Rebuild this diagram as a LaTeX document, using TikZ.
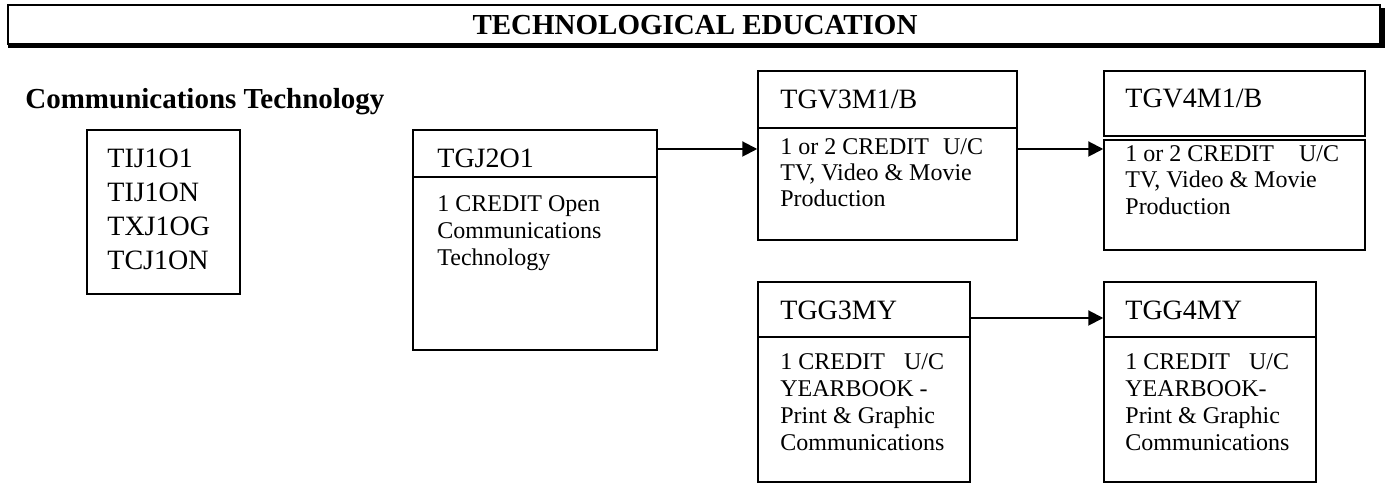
\documentclass[tikz,border=0pt]{standalone}
\usepackage{fontspec}
\setmainfont{Liberation Serif}
\usetikzlibrary{arrows.meta,fit}
\begin{document}
\begin{tikzpicture}[x=0.5pt,y=-0.5pt,
  box/.style={draw=black, line width=0.75pt, inner sep=0pt},
  hd/.style={font=\fontsize{14}{17}\selectfont, anchor=base west, inner sep=0pt},
  bd/.style={font=\fontsize{12}{14}\selectfont, anchor=base west, inner sep=0pt},
  ttl/.style={font=\fontsize{14.5}{17}\selectfont\bfseries, inner sep=0pt},
  arr/.style={line width=1pt, -{Triangle[length=7.5pt,width=7.5pt]}}]
\useasboundingbox (0,0) rectangle (1389,485);

% title bar with shadow
\fill[black] (8,44) rectangle (1385,48);
\fill[black] (1380,8) rectangle (1385,48);
\node[draw=black, line width=0.9pt, fill=white, inner sep=0pt, fit={(8,5) (1380,44)}] (tbar) {};
\node[ttl, anchor=base] (title) at (695,35) {TECHNOLOGICAL EDUCATION};

% heading
\node[ttl, anchor=base west] (heading) at (25,109) {Communications Technology};

% grade 9 box
\node[box, fit={(87,130) (240,294)}] (tij) {};
\node[hd] (tij1) at (107,168) {TIJ1O1};
\node[hd] (tij2) at (107,202) {TIJ1ON};
\node[hd] (tij3) at (107,236) {TXJ1OG};
\node[hd] (tij4) at (107,270) {TCJ1ON};

% TGJ2O1
\node[box, fit={(413,130) (657,177)}] (tgjh) {};
\node[box, fit={(413,177) (657,350)}] (tgjb) {};
\node[hd] (tgjt) at (437,168) {TGJ2O1};
\node[bd] (tgj1) at (437,212) {1 CREDIT Open};
\node[bd] (tgj2) at (437,239) {Communications};
\node[bd] (tgj3) at (437,266) {Technology};

% TGV3M1/B
\node[box, fit={(758,71) (1017,128)}] (tgv3h) {};
\node[box, fit={(758,128) (1017,240)}] (tgv3b) {};
\node[hd] (tgv3t) at (780,109) {TGV3M1/B};
\node[bd] (tgv31) at (780,155) {1 or 2 CREDIT\hspace{7pt}U/C};
\node[bd] (tgv32) at (780,181) {TV, Video \& Movie};
\node[bd] (tgv33) at (780,207) {Production};

% TGV4M1/B
\node[box, fit={(1104,71) (1365,136)}] (tgv4h) {};
\node[box, fit={(1104,140) (1365,250)}] (tgv4b) {};
\node[hd] (tgv4t) at (1125,108) {TGV4M1/B};
\node[bd] (tgv41) at (1125,162) {1 or 2 CREDIT\hspace{12.5pt}U/C};
\node[bd] (tgv42) at (1125,188) {TV, Video \& Movie};
\node[bd] (tgv43) at (1125,215) {Production};

% TGG3MY
\node[box, fit={(758,282) (970,337)}] (tgg3h) {};
\node[box, fit={(758,337) (970,482)}] (tgg3b) {};
\node[hd] (tgg3t) at (780,320) {TGG3MY};
\node[bd] (tgg31) at (780,370) {1 CREDIT\hspace{9.5pt}U/C};
\node[bd] (tgg32) at (780,397) {YEARBOOK -};
\node[bd] (tgg33) at (780,424) {Print \& Graphic};
\node[bd] (tgg34) at (780,451) {Communications};

% TGG4MY
\node[box, fit={(1104,282) (1316,337)}] (tgg4h) {};
\node[box, fit={(1104,337) (1316,482)}] (tgg4b) {};
\node[hd] (tgg4t) at (1125,320) {TGG4MY};
\node[bd] (tgg41) at (1125,370) {1 CREDIT\hspace{9.5pt}U/C};
\node[bd] (tgg42) at (1125,397) {YEARBOOK-};
\node[bd] (tgg43) at (1125,424) {Print \& Graphic};
\node[bd] (tgg44) at (1125,451) {Communications};

% connectors
\coordinate (ya) at (0,149);
\coordinate (yb) at (0,318);
\draw[arr] (tgjh.east |- ya) -- (tgv3b.west |- ya);
\draw[arr] (tgv3b.east |- ya) -- (tgv4b.west |- ya);
\draw[arr] (tgg3h.east |- yb) -- (tgg4h.west |- yb);
\end{tikzpicture}
\end{document}
